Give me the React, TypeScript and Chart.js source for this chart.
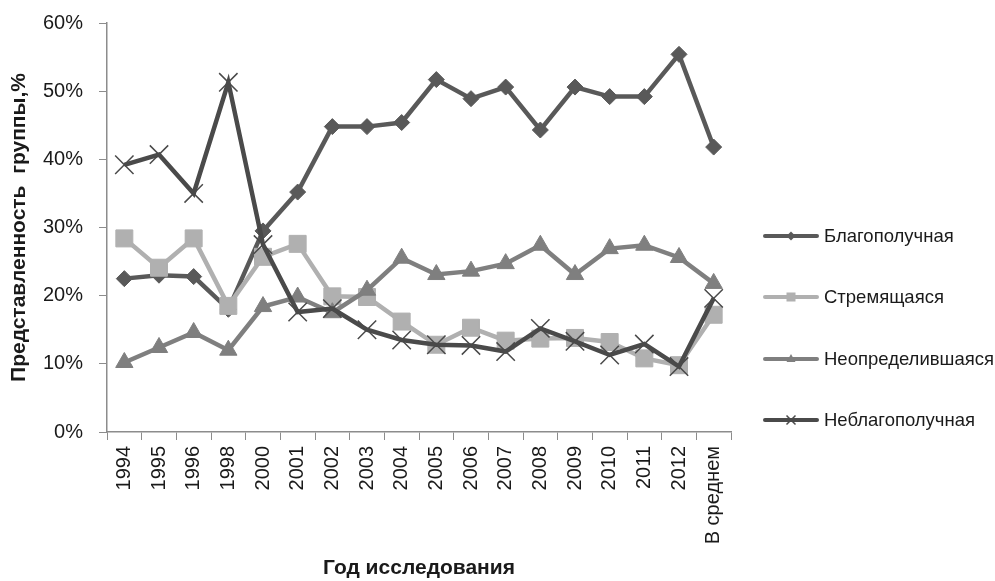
import React, { useEffect, useRef } from "react";
import { Chart, registerables } from "chart.js";
Chart.register(...registerables);

const categories = ["1994", "1995", "1996", "1998", "2000", "2001", "2002", "2003", "2004", "2005", "2006", "2007", "2008", "2009", "2010", "2011", "2012", "В среднем"];
const blagopoluchnaya = [22.5, 23.0, 22.8, 18.0, 29.5, 35.2, 44.8, 44.8, 45.4, 51.7, 48.9, 50.6, 44.3, 50.6, 49.2, 49.2, 55.4, 41.8];
const stremyashchayasya = [28.4, 24.1, 28.4, 18.5, 25.7, 27.6, 19.9, 19.8, 16.2, 12.8, 15.3, 13.4, 13.7, 13.8, 13.2, 10.8, 9.8, 17.2];
const neopredelivshayasya = [10.2, 12.4, 14.6, 12.0, 18.4, 19.8, 17.5, 20.8, 25.5, 23.1, 23.6, 24.7, 27.4, 23.1, 26.9, 27.4, 25.6, 21.8];
const neblagopoluchnaya = [39.2, 40.7, 35.0, 51.3, 27.5, 17.6, 18.1, 15.0, 13.5, 12.8, 12.7, 11.8, 15.2, 13.3, 11.3, 12.9, 9.6, 19.6];
const seriesNames = ["Благополучная", "Стремящаяся", "Неопределившаяся", "Неблагополучная"];
const yTicks = [0, 10, 20, 30, 40, 50, 60];

const colors = ["#595959", "#b0b0b0", "#7f7f7f", "#4a4a4a"];
const styles: any[] = ["rectRot", "rect", "triangle", "crossRot"];
const radii = [8, 12, 10, 13];
const FONT = "'Liberation Sans', Arial, sans-serif";

const legendPlugin = {
  id: "customLegend",
  afterDraw(chart: any) {
    const ctx = chart.ctx;
    const x0 = chart.chartArea.right + 34;
    const ys = [236, 297, 359, 420];
    ctx.save();
    seriesNames.forEach((name, i) => {
      const y = ys[i];
      ctx.strokeStyle = colors[i];
      ctx.lineWidth = 4;
      ctx.lineCap = "round";
      ctx.beginPath();
      ctx.moveTo(x0, y);
      ctx.lineTo(x0 + 52, y);
      ctx.stroke();
      const cx = x0 + 26;
      ctx.fillStyle = colors[i];
      if (i === 0) {
        ctx.beginPath();
        ctx.moveTo(cx, y - 4.5); ctx.lineTo(cx + 4.5, y); ctx.lineTo(cx, y + 4.5); ctx.lineTo(cx - 4.5, y);
        ctx.closePath(); ctx.fill();
      } else if (i === 1) {
        ctx.fillRect(cx - 4.5, y - 4.5, 9, 9);
      } else if (i === 2) {
        ctx.beginPath();
        ctx.moveTo(cx, y - 5); ctx.lineTo(cx + 4.5, y + 3); ctx.lineTo(cx - 4.5, y + 3);
        ctx.closePath(); ctx.fill();
      } else {
        ctx.lineWidth = 1.5;
        ctx.lineCap = "butt";
        ctx.beginPath();
        ctx.moveTo(cx - 4.5, y - 4.5); ctx.lineTo(cx + 4.5, y + 4.5);
        ctx.moveTo(cx + 4.5, y - 4.5); ctx.lineTo(cx - 4.5, y + 4.5);
        ctx.stroke();
      }
      ctx.fillStyle = "#1a1a1a";
      ctx.font = `18.5px ${FONT}`;
      ctx.textBaseline = "middle";
      ctx.textAlign = "left";
      ctx.fillText(name, x0 + 59, y + 1);
    });
    ctx.restore();
  },
};

export default function App() {
  const ref = useRef<HTMLCanvasElement>(null);
  useEffect(() => {
    if (!ref.current) return;
    const data = [blagopoluchnaya, stremyashchayasya, neopredelivshayasya, neblagopoluchnaya];
    const chart = new Chart(ref.current, {
      type: "line",
      data: {
        labels: categories,
        datasets: data.map((d, i) => ({
          label: seriesNames[i],
          data: d,
          borderColor: colors[i],
          backgroundColor: colors[i],
          borderWidth: 4.5,
          pointStyle: styles[i],
          pointRadius: radii[i],
          pointBorderWidth: i === 3 ? 1.5 : 1,
          pointBorderColor: colors[i],
          pointBackgroundColor: colors[i],
          tension: 0,
          order: 4 - i,
        })),
      },
      plugins: [legendPlugin],
      options: {
        responsive: false,
        animation: false,
        layout: { padding: { top: 23, right: 264, left: 0, bottom: 0 } },
        plugins: { legend: { display: false }, tooltip: { enabled: false } },
        scales: {
          x: {
            type: "category",
            offset: true,
            grid: { offset: true, drawOnChartArea: false, drawTicks: true, tickLength: 8, color: "#8c8c8c" },
            border: { display: true, color: "#8c8c8c", width: 1.5 },
            ticks: { color: "#1a1a1a", font: { family: FONT, size: 20 }, maxRotation: 90, minRotation: 90, autoSkip: false, padding: 6 },
            title: { display: true, text: "Год исследования", color: "#1a1a1a", font: { family: FONT, size: 21, weight: "bold" }, padding: { top: 0, bottom: 0 } },
            afterFit: (s: any) => { s.height = 149; s.paddingLeft = 0; s.paddingRight = 0; },
          },
          y: {
            min: 0,
            max: 60,
            afterBuildTicks: (s: any) => { s.ticks = yTicks.map((v) => ({ value: v })); },
            grid: { drawOnChartArea: false, drawTicks: true, tickLength: 8, color: "#8c8c8c" },
            border: { display: true, color: "#8c8c8c", width: 1.5 },
            ticks: { color: "#1a1a1a", font: { family: FONT, size: 20 }, padding: 16, callback: (v: any) => v + "%" },
            title: { display: true, text: "Представленность  группы,%", color: "#1a1a1a", font: { family: FONT, size: 21, weight: "bold" }, padding: { top: 7, bottom: 0 } },
            afterFit: (s: any) => { s.width = 107; s.paddingTop = 0; s.paddingBottom = 0; },
          },
        },
      },
    });
    return () => chart.destroy();
  }, []);
  return (
    <div style={{ position: "fixed", left: 0, top: 0, width: 995, height: 581, background: "#fff" }}>
      <canvas ref={ref} width={995} height={581} style={{ width: 995, height: 581, display: "block" }} />
    </div>
  );
}
